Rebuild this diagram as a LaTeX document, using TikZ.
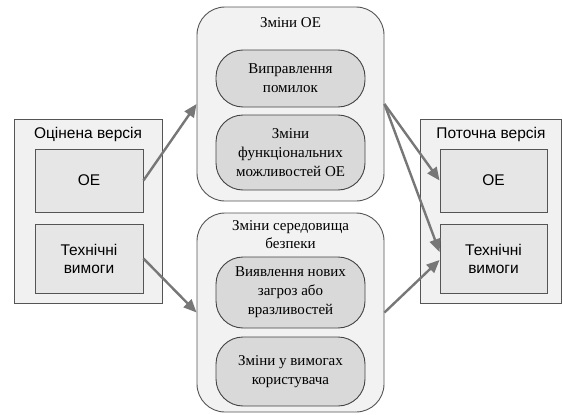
\documentclass[tikz,border=0pt]{standalone}
\usepackage{fontspec}
\setmainfont{Liberation Serif}
\newfontfamily\sansf{Liberation Sans}
\usetikzlibrary{arrows.meta}
\definecolor{outerfill}{HTML}{F1F1F1}
\definecolor{innerfill}{HTML}{E6E6E6}
\definecolor{groupfill}{HTML}{F2F2F2}
\definecolor{ellfill}{HTML}{D9D9D9}
\definecolor{linecol}{HTML}{555555}
\definecolor{arrcol}{HTML}{777777}
\tikzset{
  outerbox/.style={draw=linecol, fill=outerfill, line width=0.9pt, inner sep=0pt},
  innerbox/.style={draw=linecol, fill=innerfill, line width=0.9pt, inner sep=0pt,
    font=\sansf\fontsize{15.5}{18}\selectfont, align=center},
  groupbox/.style={draw=linecol, fill=groupfill, line width=0.9pt, rounded corners=28pt, inner sep=0pt},
  ellbox/.style={draw=linecol!80!black, fill=ellfill, line width=0.9pt, rounded corners=27pt, inner sep=0pt,
    font=\fontsize{15}{19}\selectfont, align=center},
  sanstitle/.style={font=\sansf\fontsize{15.5}{18}\selectfont, inner sep=0pt},
  seriftitle/.style={font=\fontsize{15}{18.5}\selectfont, inner sep=0pt, align=center},
  arr/.style={draw=arrcol, line width=2.4pt, -{Triangle[length=13pt,width=11pt]}, shorten >=0pt}
}
\begin{document}
\begin{tikzpicture}[x=1pt,y=-1pt]
\useasboundingbox[fill=white] (0,0) rectangle (563,415);
% left
\node[outerbox, minimum width=148pt, minimum height=184pt] (leftOuter) at (88,211) {};
\node[sanstitle] (leftTitle) at (88,134) {Оцінена версія};
\node[innerbox, minimum width=108pt, minimum height=63pt] (leftOE) at (89,180.5) {ОЕ};
\node[innerbox, minimum width=108pt, minimum height=69pt] (leftTech) at (89,258.5) {Технічні\\вимоги};
% right
\node[outerbox, minimum width=141pt, minimum height=184pt] (rightOuter) at (490.5,211) {};
\node[sanstitle] (rightTitle) at (491,134) {Поточна версія};
\node[innerbox, minimum width=107pt, minimum height=63pt] (rightOE) at (493.5,180.5) {ОЕ};
\node[innerbox, minimum width=107pt, minimum height=69pt] (rightTech) at (493.5,258.5) {Технічні\\вимоги};
% top group
\node[groupbox, minimum width=187pt, minimum height=194pt] (topGroup) at (290.5,104) {};
\node[seriftitle] (topTitle) at (290.5,23) {Зміни ОЕ};
\node[ellbox, minimum width=149pt, minimum height=57pt] (ell1) at (290.5,78.5) {Виправлення\\помилок};
\node[ellbox, minimum width=149pt, minimum height=75pt] (ell2) at (290.5,152.5) {Зміни\\функціональних\\можливостей ОЕ};
% bottom group
\node[groupbox, minimum width=187pt, minimum height=199pt] (botGroup) at (290.5,312.5) {};
\node[seriftitle] (botTitle) at (290.5,234.5) {Зміни середовища\\безпеки};
\node[ellbox, minimum width=149pt, minimum height=71pt] (ell3) at (290.5,292.5) {Виявлення нових\\загроз або\\вразливостей};
\node[ellbox, minimum width=149pt, minimum height=69pt] (ell4) at (290.5,371.5) {Зміни у вимогах\\користувача};
% arrows
\draw[arr] (leftOE.east) -- (topGroup.west);
\draw[arr] (leftTech.east) -- (botGroup.west);
\draw[arr] (topGroup.east) -- (rightOE.west);
\draw[arr] (topGroup.east) -- ([yshift=6.5pt]rightTech.west);
\draw[arr] (botGroup.east) -- ([yshift=-1.5pt]rightTech.west);
\end{tikzpicture}
\end{document}
